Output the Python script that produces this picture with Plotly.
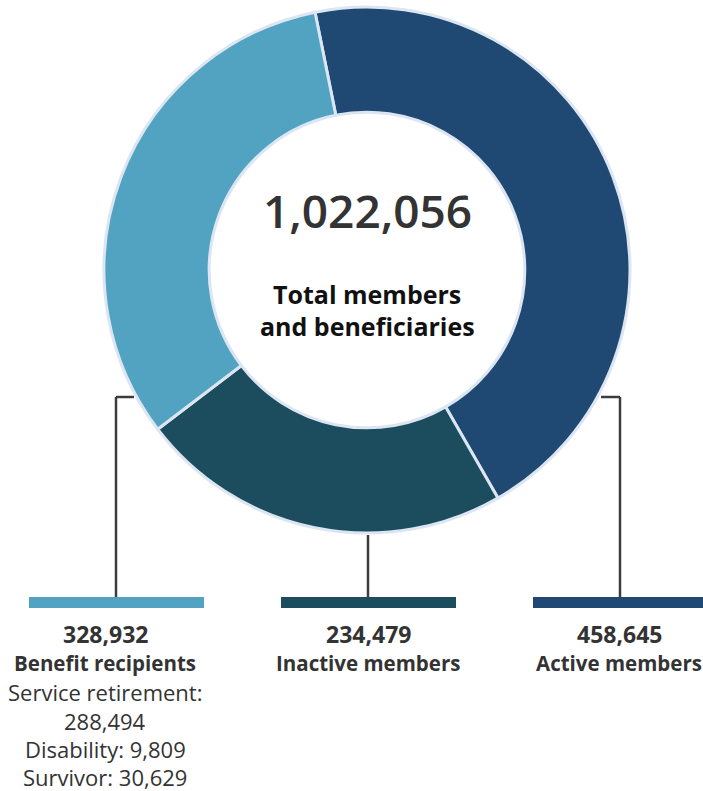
import plotly.graph_objects as go

# Membership breakdown
categories = ["Active members", "Inactive members", "Benefit recipients"]
values = [458645, 234479, 328932]
colors = ["#1f4973", "#1c4d5e", "#52a3c1"]

benefit_labels = ["Service retirement:", "Disability:", "Survivor:"]
benefit_values = [288494, 9809, 30629]

total = sum(values)

W, H = 703, 791
FONT = "Open Sans, Arial, sans-serif"
TEXT = "#333333"
LINE = "#3c3c3c"

cx, cy, r = 367, 270, 263

fig = go.Figure()
fig.add_trace(go.Pie(
    labels=categories,
    values=values,
    marker=dict(colors=colors, line=dict(color="#dce6f2", width=3)),
    hole=0.6,
    sort=False,
    direction="clockwise",
    rotation=-11.4,
    textinfo="none",
    hoverinfo="label+value",
    showlegend=False,
    domain=dict(x=[(cx - r) / W, (cx + r) / W],
                y=[(H - cy - r) / H, (H - cy + r) / H]),
))

shapes = []
# leader lines
seg = dict(type="line", xref="x", yref="y", line=dict(color=LINE, width=2.5))
shapes += [
    dict(seg, x0=134, y0=397, x1=116, y1=397),
    dict(seg, x0=116, y0=397, x1=116, y1=598),
    dict(seg, x0=368, y0=535, x1=368, y1=598),
    dict(seg, x0=601, y0=397, x1=620, y1=397),
    dict(seg, x0=620, y0=397, x1=620, y1=598),
]
# colored label bars
bars = {"Benefit recipients": (29, 204), "Inactive members": (281, 456), "Active members": (533, 703)}
for name, col in zip(categories, colors):
    x0, x1 = bars[name]
    shapes.append(dict(type="rect", xref="x", yref="y", x0=x0, x1=x1, y0=597, y1=608,
                       fillcolor=col, line=dict(width=0), layer="above"))

annotations = []

def txt(x, y, s, size, weight="normal", color=TEXT):
    annotations.append(dict(x=x, y=y, xref="x", yref="y", text=s,
                            showarrow=False, xanchor="center", yanchor="middle",
                            font=dict(family=FONT, size=size, color=color, weight=weight)))

# center
txt(cx, 210, f"{total:,}", 46, weight=600)
txt(cx, 294, "Total members", 25, weight="bold", color="#111111")
txt(cx, 326, "and beneficiaries", 25, weight="bold", color="#111111")

centers = {"Benefit recipients": 105, "Inactive members": 368, "Active members": 619}
for name, v in zip(categories, values):
    x = centers[name]
    txt(x, 634, f"{v:,}", 23, weight="bold")
    txt(x, 663, name, 20.5, weight="bold")

bx = centers["Benefit recipients"]
txt(bx, 692, benefit_labels[0], 22)
txt(bx, 721, f"{benefit_values[0]:,}", 22)
txt(bx, 749, f"{benefit_labels[1]} {benefit_values[1]:,}", 22)
txt(bx, 777, f"{benefit_labels[2]} {benefit_values[2]:,}", 22)

fig.update_layout(
    width=W, height=H,
    margin=dict(l=0, r=0, t=0, b=0),
    paper_bgcolor="white", plot_bgcolor="rgba(0,0,0,0)",
    xaxis=dict(range=[0, W], visible=False, fixedrange=True),
    yaxis=dict(range=[H, 0], visible=False, fixedrange=True),
    shapes=shapes,
    annotations=annotations,
)

fig.write_html("out.html")
